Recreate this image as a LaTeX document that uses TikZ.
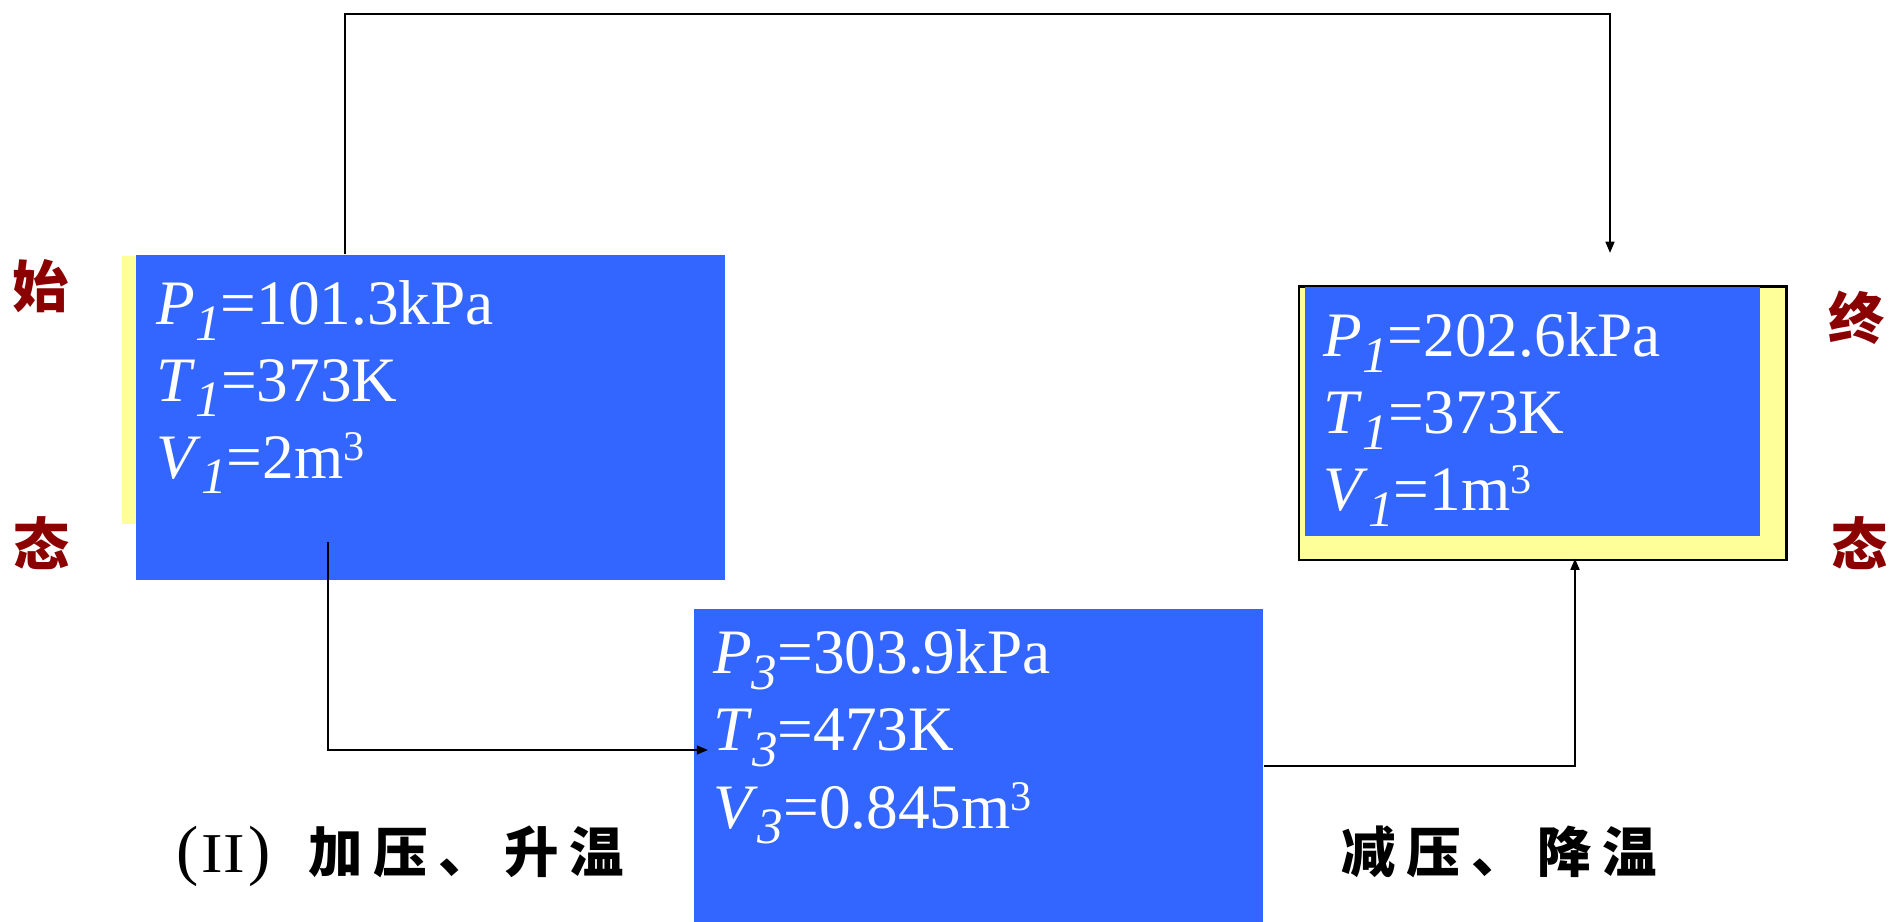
\documentclass[tikz,border=0pt]{standalone}
\usepackage{fontspec}
\setmainfont{Liberation Serif}
\newfontfamily\cjk{Noto Sans CJK SC}
\usetikzlibrary{arrows.meta}

\definecolor{stateblue}{HTML}{3366FF}
\definecolor{shadowyellow}{HTML}{FFFF99}
\definecolor{labelred}{HTML}{8B0000}

% one state line: italic symbol, italic lowered index, the rest upright
\newcommand\qline[3]{\textit{#1}\raisebox{-4.3pt}{\fontsize{14.5pt}{14.5pt}\selectfont\textit{#2}}#3}
\newcommand\cube{\raisebox{5pt}{\fontsize{12pt}{12pt}\selectfont 3}}
% fixed-pitch cell for the spaced Chinese captions
\newcommand\hzcell[1]{\makebox[18.6pt]{#1}}
% wide roman numeral two between round brackets
\newcommand\stepno{{\fontsize{19pt}{19pt}\selectfont(}\kern0.8pt{\fontsize{16pt}{16pt}\selectfont\scalebox{1.15}[1]{II}}\kern1pt{\fontsize{19pt}{19pt}\selectfont)}}

\begin{document}
\begin{tikzpicture}[x=0.01cm,y=-0.01cm,
  panel/.style={fill=stateblue,draw=none,inner sep=0,anchor=north west},
  shade/.style={fill=shadowyellow,draw=none,inner sep=0,anchor=north west},
  qty/.style={text=white,inner sep=0,anchor=base west,font=\fontsize{18pt}{18pt}\selectfont},
  stateword/.style={text=labelred,inner sep=0,font=\cjk\bfseries\fontsize{16pt}{16pt}\selectfont},
  caption/.style={text=black,inner sep=0,anchor=base west},
  flow/.style={draw=black,line width=0.6pt,-{Triangle[length=3.2pt,width=2.5pt]}}
]
\useasboundingbox (0,0) rectangle (1897,922);

% initial state
\node[shade,minimum width=4.79cm,minimum height=2.68cm] (shadow1) at (121,255) {};
\node[panel,minimum width=5.88cm,minimum height=3.255cm] (box1) at (135.5,254) {};
\node[qty] (p1) at (156,325) {\qline{P}{1}{=101.3kPa}};
\node[qty] (t1) at (156,401.7) {\qline{T}{1}{=373K}};
\node[qty] (v1) at (156,478.3) {\qline{V}{1}{=2m\cube}};

% final state
\node[shade,draw=black,line width=0.7pt,minimum width=4.87cm,minimum height=2.73cm] (frame2) at (1298,285.5) {};
\node[panel,minimum width=4.55cm,minimum height=2.49cm] (box2) at (1304,286.5) {};
\node[qty] (p2) at (1323,357) {\qline{P}{1}{=202.6kPa}};
\node[qty] (t2) at (1323,434) {\qline{T}{1}{=373K}};
\node[qty] (v2) at (1323,511) {\qline{V}{1}{=1m\cube}};

% intermediate state
\node[panel,minimum width=5.69cm,minimum height=3.14cm] (box3) at (693,608) {};
\node[qty] (p3) at (712.5,674) {\qline{P}{3}{=303.9kPa}};
\node[qty] (t3) at (712.5,751) {\qline{T}{3}{=473K}};
\node[qty] (v3) at (712.5,828) {\qline{V}{3}{=0.845m\cube}};

% side words
\node[stateword] (shi) at (40.5,286) {始};
\node[stateword] (tai1) at (42,543) {态};
\node[stateword] (zhong) at (1857,318) {终};
\node[stateword] (tai2) at (1860,543) {态};

% process captions
\node[caption] (cap1) at (176,872) {\makebox[35.8pt][l]{\stepno}{\cjk\bfseries\fontsize{15.5pt}{15.5pt}\selectfont\hzcell{加}\hzcell{压}\hzcell{、}\hzcell{升}\hzcell{温}}};
\node[caption] (cap2) at (1335,872) {\cjk\bfseries\fontsize{15.5pt}{15.5pt}\selectfont\hzcell{减}\hzcell{压}\hzcell{、}\hzcell{降}\hzcell{温}};

% connectors
\coordinate (out1) at (345,254);
\coordinate (in2top) at (1610,253);
\coordinate (out1low) at (328,542);
\coordinate (in3) at (708,750);
\coordinate (in2low) at (1575,558.5);

\draw[flow] (out1) -- (345,14) -| (in2top);
\draw[flow] (out1low) |- (in3);
\draw[flow] (box3.east) -| (in2low);
\end{tikzpicture}
\end{document}
